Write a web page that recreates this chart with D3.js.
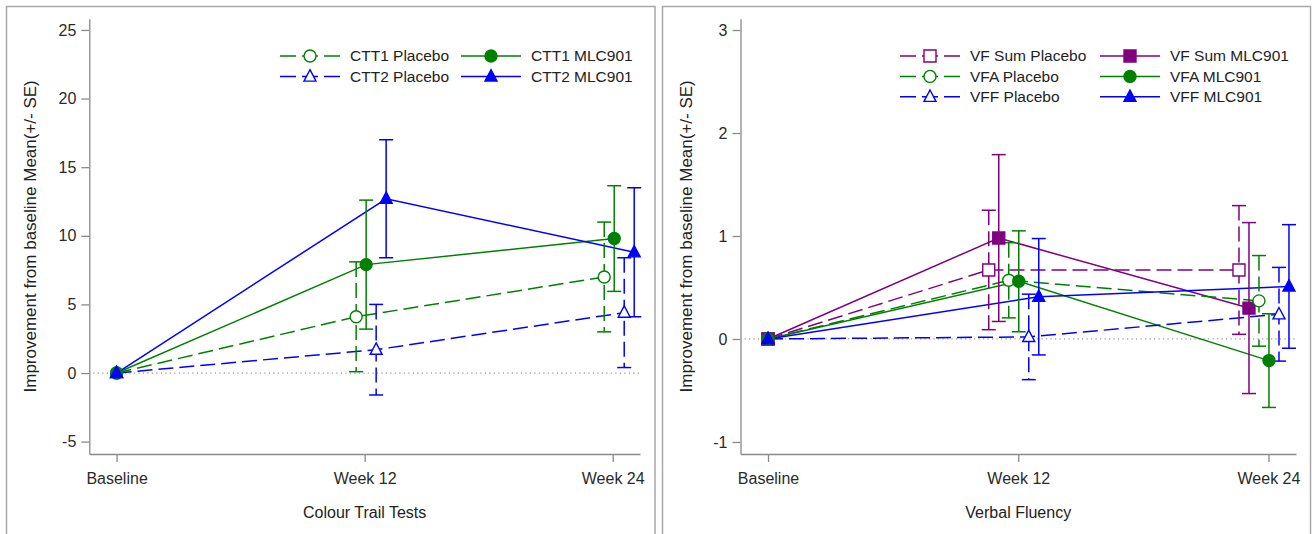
<!DOCTYPE html>
<html lang="en">
<head>
    <meta charset="UTF-8">
    <title>Colour Trail Tests and Verbal Fluency</title>
    <style>
        body { margin: 0; background: #fff; }
        svg { display: block; font-family: "Liberation Sans", Arial, sans-serif; }
    </style>
</head>
<body>
    <div id="chart"></div>

    <script src="https://d3js.org/d3.v7.min.js"></script>
    <script>
        // categories and ticks
        const weeks = ['Baseline', 'Week 12', 'Week 24']
        const cttTicks = [-5, 0, 5, 10, 15, 20, 25]
        const vfTicks = [-1, 0, 1, 2, 3]

        // Colour Trail Tests, mean and SE
        const ctt1PlaceboMean = [0, 4.1, 7.0]
        const ctt1PlaceboSE = [0, 4.0, 4.0]
        const ctt1DrugMean = [0, 7.9, 9.8]
        const ctt1DrugSE = [0, 4.7, 3.85]
        const ctt2PlaceboMean = [0, 1.7, 4.4]
        const ctt2PlaceboSE = [0, 3.3, 4.0]
        const ctt2DrugMean = [0, 12.7, 8.8]
        const ctt2DrugSE = [0, 4.3, 4.7]

        // Verbal Fluency, mean and SE
        const vfSumPlaceboMean = [0, 0.67, 0.67]
        const vfSumPlaceboSE = [0, 0.58, 0.625]
        const vfSumDrugMean = [0, 0.98, 0.30]
        const vfSumDrugSE = [0, 0.81, 0.83]
        const vfaPlaceboMean = [0, 0.57, 0.37]
        const vfaPlaceboSE = [0, 0.365, 0.44]
        const vfaDrugMean = [0, 0.56, -0.21]
        const vfaDrugSE = [0, 0.49, 0.455]
        const vffPlaceboMean = [0, 0.02, 0.24]
        const vffPlaceboSE = [0, 0.415, 0.455]
        const vffDrugMean = [0, 0.41, 0.51]
        const vffDrugSE = [0, 0.565, 0.60]

        const GREEN = '#008000', BLUE = '#0000ff', PURPLE = '#800080'

        const width = 1312
        const height = 534

        const svg = d3.select('#chart')
            .append('svg')
            .attr('width', width)
            .attr('height', height)

        const panels = [
            {
                frameX: 6.5, frameW: 648.5,
                x0: 89.3, x1: 640, yTop: 18.7, yBottom: 454,
                domain: [-5.9, 25.82], ticks: cttTicks,
                yLabelX: 30, title: 'Colour Trail Tests',
                legendCols: [280, 461], legendRows: [56, 76.5],
                series: [
                    { name: 'CTT1 Placebo', mean: ctt1PlaceboMean, se: ctt1PlaceboSE, color: GREEN, dashed: true, shape: 'circle', off: -8.5, col: 0, row: 0 },
                    { name: 'CTT1 MLC901', mean: ctt1DrugMean, se: ctt1DrugSE, color: GREEN, dashed: false, shape: 'circle', off: 1.5, col: 1, row: 0 },
                    { name: 'CTT2 Placebo', mean: ctt2PlaceboMean, se: ctt2PlaceboSE, color: BLUE, dashed: true, shape: 'triangle', off: 11.5, col: 0, row: 1 },
                    { name: 'CTT2 MLC901', mean: ctt2DrugMean, se: ctt2DrugSE, color: BLUE, dashed: false, shape: 'triangle', off: 21.5, col: 1, row: 1 }
                ]
            },
            {
                frameX: 662.5, frameW: 648,
                x0: 740.5, x1: 1296, yTop: 18.7, yBottom: 454,
                domain: [-1.117, 3.11], ticks: vfTicks,
                yLabelX: 686, title: 'Verbal Fluency',
                legendCols: [900, 1100], legendRows: [56, 76.4, 96.8],
                series: [
                    { name: 'VF Sum Placebo', mean: vfSumPlaceboMean, se: vfSumPlaceboSE, color: PURPLE, dashed: true, shape: 'square', off: -29.5, col: 0, row: 0 },
                    { name: 'VF Sum MLC901', mean: vfSumDrugMean, se: vfSumDrugSE, color: PURPLE, dashed: false, shape: 'square', off: -19.5, col: 1, row: 0 },
                    { name: 'VFA Placebo', mean: vfaPlaceboMean, se: vfaPlaceboSE, color: GREEN, dashed: true, shape: 'circle', off: -9.5, col: 0, row: 1 },
                    { name: 'VFA MLC901', mean: vfaDrugMean, se: vfaDrugSE, color: GREEN, dashed: false, shape: 'circle', off: 0.5, col: 1, row: 1 },
                    { name: 'VFF Placebo', mean: vffPlaceboMean, se: vffPlaceboSE, color: BLUE, dashed: true, shape: 'triangle', off: 10.5, col: 0, row: 2 },
                    { name: 'VFF MLC901', mean: vffDrugMean, se: vffDrugSE, color: BLUE, dashed: false, shape: 'triangle', off: 20.5, col: 1, row: 2 }
                ]
            }
        ]

        const DASH = '15,6'

        function markerPath(shape) {
            if (shape === 'circle') return d3.symbol().type(d3.symbolCircle).size(Math.PI * 36)()
            if (shape === 'square') return 'M-6,-6H6V6H-6Z'
            return 'M0,-6.8L6,4.6L-6,4.6Z'
        }

        function drawMarker(g, s, x, y) {
            g.append('path')
                .attr('d', markerPath(s.shape))
                .attr('transform', `translate(${x},${y})`)
                .attr('fill', s.dashed ? '#fff' : s.color)
                .attr('stroke', s.color)
                .attr('stroke-width', 1.4)
        }

        panels.forEach(p => {
            const g = svg.append('g')

            g.append('rect')
                .attr('x', p.frameX).attr('y', 6.5)
                .attr('width', p.frameW).attr('height', 560)
                .attr('fill', 'none')
                .attr('stroke', '#a8a8a8')
                .attr('stroke-width', 1.5)

            const x = d3.scalePoint()
                .domain(weeks)
                .range([p.x0, p.x1])
                .padding(0.11)

            const y = d3.scaleLinear()
                .domain(p.domain)
                .range([p.yBottom, p.yTop])

            // axes
            const yAxis = g.append('g')
                .attr('transform', `translate(${p.x0},0)`)
                .call(d3.axisLeft(y).tickValues(p.ticks).tickFormat(d => String(d))
                    .tickSize(8).tickSizeOuter(0).tickPadding(5))
            const xAxis = g.append('g')
                .attr('transform', `translate(0,${p.yBottom})`)
                .call(d3.axisBottom(x).tickSize(8).tickSizeOuter(0).tickPadding(11))

            ;[xAxis, yAxis].forEach(a => {
                a.selectAll('path, line').attr('stroke', '#8a8a8a').attr('stroke-width', 1.3)
                a.selectAll('text').attr('fill', '#2a2a2a').style('font-size', '16px')
                    .style('font-family', '"Liberation Sans", Arial, sans-serif')
            })

            // zero reference
            g.append('line')
                .attr('x1', p.x0 + 4).attr('x2', p.x1)
                .attr('y1', y(0)).attr('y2', y(0))
                .attr('stroke', '#999')
                .attr('stroke-width', 1.2)
                .attr('stroke-dasharray', '1.2,3.3')

            // titles
            g.append('text')
                .attr('transform', `translate(${p.yLabelX},${(p.yTop + p.yBottom) / 2}) rotate(-90)`)
                .attr('text-anchor', 'middle')
                .attr('dy', '0.35em')
                .attr('fill', '#222')
                .style('font-size', '17px')
                .text('Improvement from baseline Mean(+/- SE)')

            g.append('text')
                .attr('x', (p.x0 + p.x1) / 2)
                .attr('y', 512)
                .attr('dy', '0.35em')
                .attr('text-anchor', 'middle')
                .attr('fill', '#222')
                .style('font-size', '16px')
                .text(p.title)

            const px = (s, i) => x(weeks[i]) + (i === 0 ? 0 : s.off)

            // connecting lines
            p.series.forEach(s => {
                g.append('path')
                    .datum(s.mean)
                    .attr('fill', 'none')
                    .attr('stroke', s.color)
                    .attr('stroke-width', 1.5)
                    .attr('stroke-dasharray', s.dashed ? DASH : null)
                    .attr('d', d3.line().x((d, i) => px(s, i)).y(d => y(d)))
            })

            // error bars
            p.series.forEach(s => {
                s.mean.forEach((m, i) => {
                    if (!s.se[i]) return
                    const cx = px(s, i)
                    const eg = g.append('g')
                        .attr('stroke', s.color)
                        .attr('stroke-width', 1.5)
                    eg.append('line')
                        .attr('x1', cx).attr('x2', cx)
                        .attr('y1', y(m + s.se[i])).attr('y2', y(m - s.se[i]))
                        .attr('stroke-dasharray', s.dashed ? DASH : null)
                    ;[m + s.se[i], m - s.se[i]].forEach(v => {
                        eg.append('line')
                            .attr('x1', cx - 7).attr('x2', cx + 7)
                            .attr('y1', y(v)).attr('y2', y(v))
                    })
                })
            })

            // markers
            p.series.forEach(s => {
                s.mean.forEach((m, i) => drawMarker(g, s, px(s, i), y(m)))
            })

            // legend
            p.series.forEach(s => {
                const lx = p.legendCols[s.col]
                const ly = p.legendRows[s.row]
                g.append('line')
                    .attr('x1', lx).attr('x2', lx + 60)
                    .attr('y1', ly).attr('y2', ly)
                    .attr('stroke', s.color)
                    .attr('stroke-width', 1.5)
                    .attr('stroke-dasharray', s.dashed ? '16,6' : null)
                drawMarker(g, s, lx + 30, ly)
                g.append('text')
                    .attr('x', lx + 70)
                    .attr('y', ly)
                    .attr('dy', '0.35em')
                    .attr('fill', '#222')
                    .style('font-size', '15.5px')
                    .text(s.name)
            })
        })
    </script>
</body>
</html>
